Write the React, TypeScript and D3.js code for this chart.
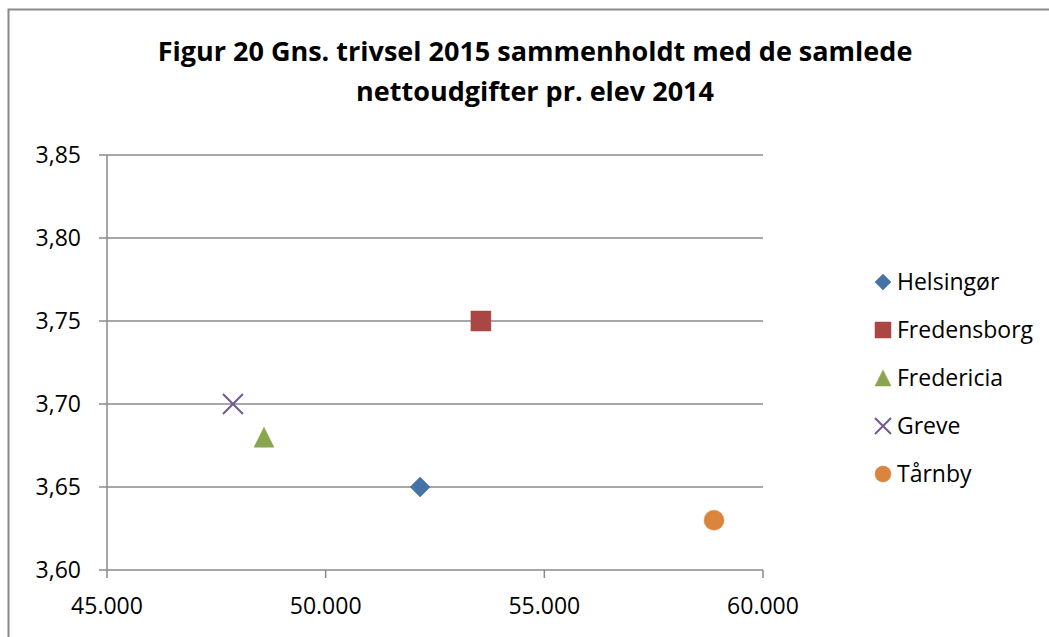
import React from "react";
import * as d3 from "d3";

const titleLines = ["Figur 20 Gns. trivsel 2015 sammenholdt med de samlede", "nettoudgifter pr. elev 2014"];
const municipalities = ["Helsingør", "Fredensborg", "Fredericia", "Greve", "Tårnby"];
const spending = [52160, 53550, 48590, 47880, 58880];
const wellbeing = [3.65, 3.75, 3.68, 3.7, 3.63];
const colors = ["#4572A7", "#AA4643", "#89A54E", "#71588F", "#DB843D"];
const shapes = ["diamond", "square", "triangle", "x", "circle"];
const xTicks = [45000, 50000, 55000, 60000];
const yTicks = [3.6, 3.65, 3.7, 3.75, 3.8, 3.85];

const W = 1049;
const H = 637;
const FONT = "'Open Sans', sans-serif";

function markerPath(shape: string, s: number): string {
  const h = s / 2;
  const p = d3.path();
  if (shape === "diamond") {
    p.moveTo(0, -h); p.lineTo(h, 0); p.lineTo(0, h); p.lineTo(-h, 0); p.closePath();
  } else if (shape === "square") {
    p.rect(-h, -h, s, s);
  } else if (shape === "triangle") {
    p.moveTo(0, -h); p.lineTo(h, h); p.lineTo(-h, h); p.closePath();
  } else if (shape === "circle") {
    p.arc(0, 0, h, 0, Math.PI * 2);
  } else {
    p.moveTo(-h, -h); p.lineTo(h, h); p.moveTo(h, -h); p.lineTo(-h, h);
  }
  return p.toString();
}

function Marker({ shape, color, size, x, y }: { shape: string; color: string; size: number; x: number; y: number }) {
  const d = markerPath(shape, size);
  if (shape === "x") {
    return <path d={d} transform={`translate(${x},${y})`} fill="none" stroke={color} strokeWidth={2} />;
  }
  return <path d={d} transform={`translate(${x},${y})`} fill={color} stroke={color} strokeWidth={0.5} />;
}

export default function App() {
  const x = d3.scaleLinear().domain([45000, 60000]).range([107, 763]);
  const y = d3.scaleLinear().domain([3.6, 3.85]).range([570, 155]);
  const fmtX = (v: number) => d3.format(",")(v).replace(/,/g, ".");
  const fmtY = (v: number) => v.toFixed(2).replace(".", ",");
  const gridColor = "#8a8a8a";

  return (
    <svg width={W} height={H} style={{ position: "absolute", left: 0, top: 0, background: "#fff" }}>
      <rect x={8.5} y={9.5} width={W + 20} height={H + 20} fill="none" stroke="#8a8a8a" strokeWidth={2} />
      {titleLines.map((t, i) => (
        <text key={i} x={535} y={61 + i * 40} textAnchor="middle" fontFamily={FONT} fontWeight="bold" fontSize={27} fill="#000">
          {t}
        </text>
      ))}
      {yTicks.map((t) => (
        <g key={t}>
          <line x1={99} x2={763} y1={y(t)} y2={y(t)} stroke={gridColor} strokeWidth={1.5} />
          <text x={81} y={y(t)} dy="0.35em" textAnchor="end" fontFamily={FONT} fontSize={23} fill="#000">
            {fmtY(t)}
          </text>
        </g>
      ))}
      <line x1={107} x2={107} y1={155} y2={570} stroke={gridColor} strokeWidth={1.5} />
      {xTicks.map((t) => (
        <g key={t}>
          <line x1={x(t)} x2={x(t)} y1={570} y2={578} stroke={gridColor} strokeWidth={1.5} />
          <text x={x(t)} y={606} dy="0.35em" textAnchor="middle" fontFamily={FONT} fontSize={23} fill="#000">
            {fmtX(t)}
          </text>
        </g>
      ))}
      {municipalities.map((m, i) => (
        <Marker key={m} shape={shapes[i]} color={colors[i]} size={20} x={x(spending[i])} y={y(wellbeing[i])} />
      ))}
      {municipalities.map((m, i) => (
        <g key={"l" + m}>
          <Marker shape={shapes[i]} color={colors[i]} size={16} x={883} y={282 + i * 48} />
          <text x={897} y={282 + i * 48} dy="0.35em" fontFamily={FONT} fontSize={23} fill="#000">
            {m}
          </text>
        </g>
      ))}
    </svg>
  );
}
